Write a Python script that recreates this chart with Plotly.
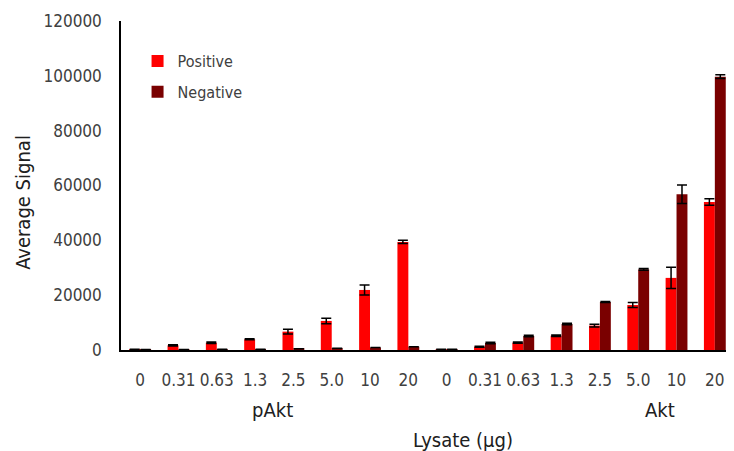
import plotly.graph_objects as go

tick_labels = ["0", "0.31", "0.63", "1.3", "2.5", "5.0", "10", "20",
               "0", "0.31", "0.63", "1.3", "2.5", "5.0", "10", "20"]
groups = ["pAkt", "Akt"]

positive = [250, 1700, 2650, 3900, 6700, 10600, 21900, 39400,
            250, 1200, 2700, 5200, 8900, 16400, 26300, 54000]
positive_err = [0, 200, 250, 200, 900, 1000, 1800, 600,
                0, 200, 200, 300, 500, 900, 3900, 1200]
negative = [200, 200, 250, 250, 500, 600, 900, 1200,
            250, 2550, 5100, 9500, 17500, 29400, 56800, 99700]
negative_err = [0, 0, 0, 0, 0, 0, 0, 0,
                0, 300, 300, 300, 200, 300, 3400, 700]

xpos = list(range(len(tick_labels)))
font_family = "DejaVu Sans Condensed, Liberation Sans Narrow, sans-serif"

fig = go.Figure()
fig.add_trace(go.Bar(
    x=xpos, y=positive, name="Positive", marker_color="#FF0000",
    marker_line_width=0, legendgroup="pos",
    error_y=dict(type="data", array=positive_err, visible=True,
                 color="black", thickness=1.5, width=5)))
fig.add_trace(go.Bar(
    x=xpos, y=negative, name="Negative", marker_color="#7A0000",
    marker_line_width=0, legendgroup="neg",
    error_y=dict(type="data", array=negative_err, visible=True,
                 color="black", thickness=1.5, width=5)))

fig.update_layout(
    width=726, height=443,
    margin=dict(l=113, r=0, t=13, b=101, autoexpand=False),
    plot_bgcolor="white", paper_bgcolor="white",
    barmode="group", bargap=0.43, bargroupgap=0,
    font=dict(family=font_family, size=17, color="#404040"),
    showlegend=True,
    legend=dict(x=0.027, y=0.93, xanchor="left", yanchor="top",
                bgcolor="rgba(0,0,0,0)", font=dict(size=16, color="#404040"),
                itemwidth=30, tracegroupgap=7),
)
fig.update_xaxes(
    range=[-0.5, 15.5], tickmode="array", tickvals=xpos, ticktext=tick_labels,
    showline=True, linecolor="black", linewidth=1.5, showgrid=False,
    ticks="", ticklen=0, zeroline=False, automargin=False,
    ticklabelstandoff=14,
    tickfont=dict(size=17, color="#404040"))
fig.update_yaxes(
    range=[0, 120000], tickmode="array",
    tickvals=[0, 20000, 40000, 60000, 80000, 100000, 120000],
    tickformat="d", automargin=False,
    showline=True, linecolor="black", linewidth=1.5, showgrid=False,
    zeroline=False, ticks="", ticklabelstandoff=14,
    tickfont=dict(size=17, color="#404040"))

fig.add_annotation(x=-0.16, y=0.45, xref="paper", yref="paper", text="Average Signal",
                   textangle=-90, showarrow=False, xanchor="center", yanchor="middle",
                   font=dict(size=20, color="#202020"))
fig.add_annotation(x=3.45, y=-0.182, xref="x", yref="paper", text=groups[0],
                   showarrow=False, yanchor="middle", font=dict(size=20, color="#202020"))
fig.add_annotation(x=13.57, y=-0.182, xref="x", yref="paper", text=groups[1],
                   showarrow=False, yanchor="middle", font=dict(size=20, color="#202020"))
fig.add_annotation(x=8.43, y=-0.274, xref="x", yref="paper", text="Lysate (µg)",
                   showarrow=False, yanchor="middle", font=dict(size=20, color="#202020"))

fig.write_html("out.html")
